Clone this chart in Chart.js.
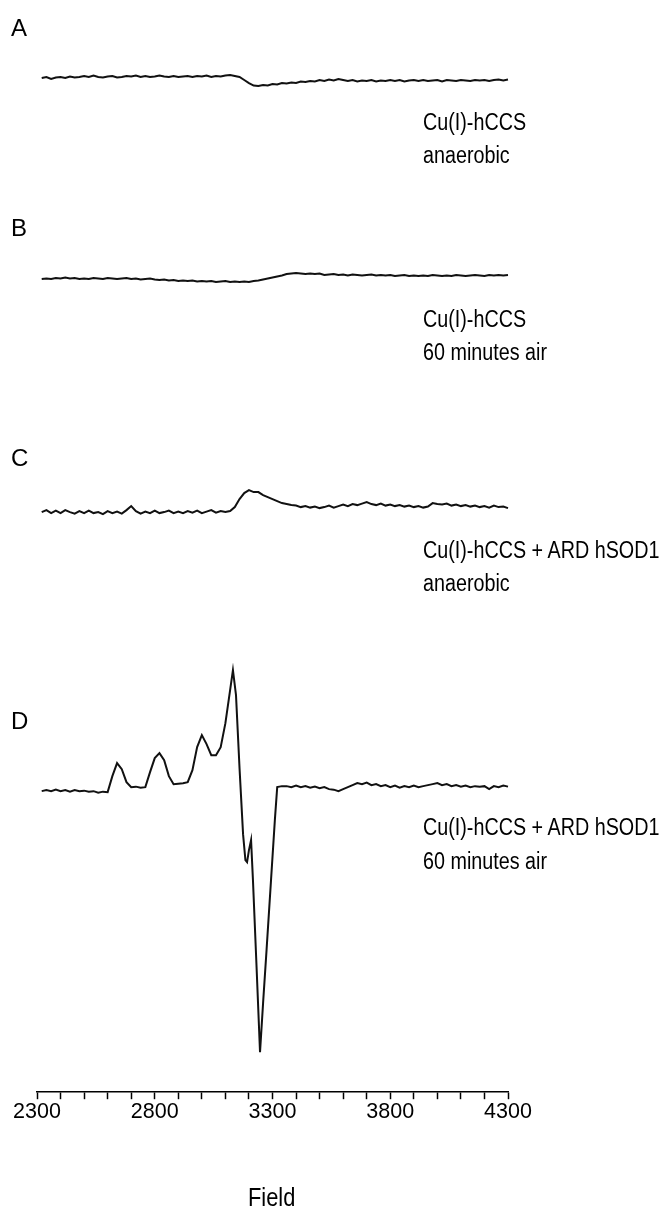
<!DOCTYPE html>
<html>
<head>
<meta charset="utf-8">
<script src="https://cdn.jsdelivr.net/npm/chart.js@4.4.1/dist/chart.umd.min.js"></script>
<style>
  html, body { margin: 0; padding: 0; background: #fff; }
  #wrap { position: relative; width: 663px; height: 1218px; }
  #wrap canvas { position: absolute; left: 0; top: 0; }
  .panel { position: absolute; left: 11px; font-family: "Liberation Sans", Arial, sans-serif; font-size: 24px; line-height: 1; color: #000; }
  .note { position: absolute; left: 423px; font-family: "Liberation Sans", Arial, sans-serif; font-size: 23.5px; line-height: 1; color: #000; white-space: nowrap; transform: scaleX(0.84); transform-origin: 0 0; }
  .axis-title { position: absolute; left: 248px; top: 1184px; font-family: "Liberation Sans", Arial, sans-serif; font-size: 26px; line-height: 1; color: #000; transform: scaleX(0.84); transform-origin: 0 0; }
</style>
</head>
<body>
<div id="wrap">
  <canvas id="epr" width="663" height="1218"></canvas>
  <div class="panel" style="top:16px">A</div>
  <div class="note" style="top:111px">Cu(I)-hCCS</div>
  <div class="note" style="top:144px">anaerobic</div>
  <div class="panel" style="top:216px">B</div>
  <div class="note" style="top:308px">Cu(I)-hCCS</div>
  <div class="note" style="top:341px">60 minutes air</div>
  <div class="panel" style="top:446px">C</div>
  <div class="note" style="top:539px">Cu(I)-hCCS + ARD hSOD1</div>
  <div class="note" style="top:572px">anaerobic</div>
  <div class="panel" style="top:709px">D</div>
  <div class="note" style="top:816px">Cu(I)-hCCS + ARD hSOD1</div>
  <div class="note" style="top:850px">60 minutes air</div>
  <div class="axis-title">Field</div>
</div>
<script>
// field grid used by spectra A-C
const fields = [
  2320, 2340, 2360, 2380, 2400, 2420, 2440, 2460, 2480, 2500,
  2520, 2540, 2560, 2580, 2600, 2620, 2640, 2660, 2680, 2700,
  2720, 2740, 2760, 2780, 2800, 2820, 2840, 2860, 2880, 2900,
  2920, 2940, 2960, 2980, 3000, 3020, 3040, 3060, 3080, 3100,
  3120, 3140, 3160, 3180, 3200, 3220, 3240, 3260, 3280, 3300,
  3320, 3340, 3360, 3380, 3400, 3420, 3440, 3460, 3480, 3500,
  3520, 3540, 3560, 3580, 3600, 3620, 3640, 3660, 3680, 3700,
  3720, 3740, 3760, 3780, 3800, 3820, 3840, 3860, 3880, 3900,
  3920, 3940, 3960, 3980, 4000, 4020, 4040, 4060, 4080, 4100,
  4120, 4140, 4160, 4180, 4200, 4220, 4240, 4260, 4280, 4300
];

// A: Cu(I)-hCCS anaerobic
const specA = [
  0, 1, -1, 0.5, 1, 0, 1.5, 0.5, 1, 2,
  1, 2.5, 1, 0.5, 1.5, 2, 0.5, 1, 2, 1.5,
  2.5, 1, 2, 1, 1.5, 2.5, 1.5, 1, 2, 1,
  1.5, 2, 1, 2, 1.5, 2.5, 1, 2, 1.5, 2.5,
  3, 2, 1, -2, -5, -7.5, -8, -7, -7.5, -6,
  -6.5, -5, -5.5, -4.5, -5, -3.5, -4, -3, -3.5, -2,
  -3, -1.5, -2.5, -1, -2, -3, -2, -3.5, -2.5, -3,
  -2, -3.5, -2.5, -3, -2, -3, -2, -3.5, -2.5, -2,
  -3, -2, -3, -2.5, -2, -3.5, -2, -2.5, -3, -2,
  -2.5, -3, -2, -2.5, -2, -3, -2, -1.5, -2.5, -1.5
];

// B: Cu(I)-hCCS 60 minutes air
const specB = [
  0, 0.5, 0, 1, 0.5, 1.5, 0.5, 1, 0, 0.5,
  0, 1, 0.5, 0, 1, 0.5, 0, 0.5, 1, 0,
  0.5, -0.5, 0, 0.5, -0.5, -1, -0.5, -1.5, -1, -2,
  -1.5, -2, -1.5, -2.5, -2, -2.5, -2, -3, -2.5, -2,
  -3, -2.5, -3, -2.5, -3, -2, -1.5, -0.5, 0.5, 1.5,
  2.5, 3.5, 5, 5.5, 6, 5.5, 5, 5.5, 5, 5.5,
  4, 4.5, 5, 4, 4.5, 3.5, 4.5, 4, 3.5, 4,
  4.5, 3.5, 4, 3.5, 4, 3, 3.5, 4, 3, 3.5,
  3, 3.5, 3, 4, 3.5, 3, 3.5, 3, 4, 3.5,
  3, 3.5, 4, 3.5, 3, 4, 3.5, 4, 3.5, 4
];

// C: Cu(I)-hCCS + ARD hSOD1 anaerobic
const specC = [
  0, 2, -1, 1.5, -1, 2, 0, -1.5, 1, -1,
  1.5, -1, 0, -2, 1, -1, 0.5, -1.5, 2, 6,
  1, -1.5, 0.5, -1, 1.5, -1, 0, 1.5, -1, 0.5,
  -1, 1, -0.5, 1.5, -1, 0.5, 2, -0.5, 1, 0,
  1, 5, 13, 19, 22, 20, 20, 17, 15, 13,
  11, 9, 8, 7, 6.5, 5, 6, 4.5, 5.5, 4,
  5, 6.5, 4.5, 6, 7.5, 6, 8, 7, 8.5, 10,
  8, 7, 8.5, 6.5, 7.5, 6, 7, 5.5, 6.5, 5,
  6, 4.5, 5.5, 9, 8, 7.5, 8.5, 6.5, 7.5, 6,
  7, 5.5, 6.5, 5, 6, 4.5, 6.5, 5, 5.5, 4
];

// D: Cu(I)-hCCS + ARD hSOD1 60 minutes air (denser around the sharp line)
const fieldsD = [
  2320, 2340, 2360, 2380, 2400, 2420, 2440, 2460, 2480, 2500,
  2520, 2540, 2560, 2580, 2600, 2620, 2640, 2660, 2680, 2700,
  2720, 2740, 2760, 2780, 2800, 2820, 2840, 2860, 2880, 2900,
  2920, 2940, 2960, 2980, 3000, 3020, 3040, 3060, 3080, 3100,
  3120, 3132, 3145, 3160, 3175, 3185, 3192, 3200, 3209, 3217,
  3232, 3247, 3260, 3275, 3294, 3310, 3320, 3340,
  3360, 3380, 3400, 3420, 3440, 3460, 3480, 3500,
  3520, 3540, 3560, 3580, 3600, 3620, 3640, 3660, 3680, 3700,
  3720, 3740, 3760, 3780, 3800, 3820, 3840, 3860, 3880, 3900,
  3920, 3940, 3960, 3980, 4000, 4020, 4040, 4060, 4080, 4100,
  4120, 4140, 4160, 4180, 4200, 4220, 4240, 4260, 4280, 4300
];
const specD = [
  -3, -2, -3, -1.5, -3, -2, -3.5, -2, -3, -2.5,
  -3.5, -3, -4.5, -3.5, -4, 12, 25, 19, 6, 1,
  1.5, 0.5, 1, 16, 30, 35, 28, 12, 4, 4.5,
  5, 6, 18, 41, 53, 44, 33, 33, 41, 65,
  98, 118, 93, 20, -46, -72, -74, -62, -52, -92,
  -177, -264, -215, -161, -91, -32, 1, 2,
  2, 1, 2.5, 1, 2, 0.5, 1.5, 0,
  1, -1, -1.5, -3, -1, 1, 3, 5, 4, 5.5,
  3, 4, 2, 3, 1, 2.5, 0.5, 2, 1, 2.5,
  1, 2, 3, 4, 5, 3, 4, 2, 3, 1.5,
  2.5, 1, 2, 1.5, 2, -1, 2, 1, 2.5, 1.5
];

// vertical stacking of the four traces
const stackOffsets = [1014, 813, 580, 304];

function toPoints(xs, ys, off) {
  return xs.map((x, i) => ({ x: x, y: off + ys[i] }));
}

const lineStyle = {
  borderColor: "#111",
  borderWidth: 2,
  pointRadius: 0,
  tension: 0,
  fill: false,
  clip: false
};

const ctx = document.getElementById("epr").getContext("2d");
new Chart(ctx, {
  type: "line",
  data: {
    datasets: [
      Object.assign({ label: "A", data: toPoints(fields, specA, stackOffsets[0]) }, lineStyle),
      Object.assign({ label: "B", data: toPoints(fields, specB, stackOffsets[1]) }, lineStyle),
      Object.assign({ label: "C", data: toPoints(fields, specC, stackOffsets[2]) }, lineStyle),
      Object.assign({ label: "D", data: toPoints(fieldsD, specD, stackOffsets[3]) }, lineStyle)
    ]
  },
  options: {
    responsive: false,
    animation: false,
    devicePixelRatio: 1,
    layout: { padding: { left: 37, right: 155, top: 0, bottom: 93 } },
    plugins: { legend: { display: false }, tooltip: { enabled: false } },
    scales: {
      x: {
        type: "linear",
        min: 2300,
        max: 4300,
        border: { display: true, color: "#000", width: 1.5 },
        grid: { drawOnChartArea: false, drawTicks: true, tickLength: 7, tickColor: "#000", tickWidth: 1.5 },
        ticks: {
          stepSize: 100,
          autoSkip: false,
          maxRotation: 0,
          padding: 0,
          color: "#000",
          font: { family: "Liberation Sans", size: 21.5 },
          callback: (v) => ((v - 2300) % 500 === 0 ? String(v) : "")
        }
      },
      y: { display: false, min: 0, max: 1092 }
    }
  }
});
</script>
</body>
</html>
